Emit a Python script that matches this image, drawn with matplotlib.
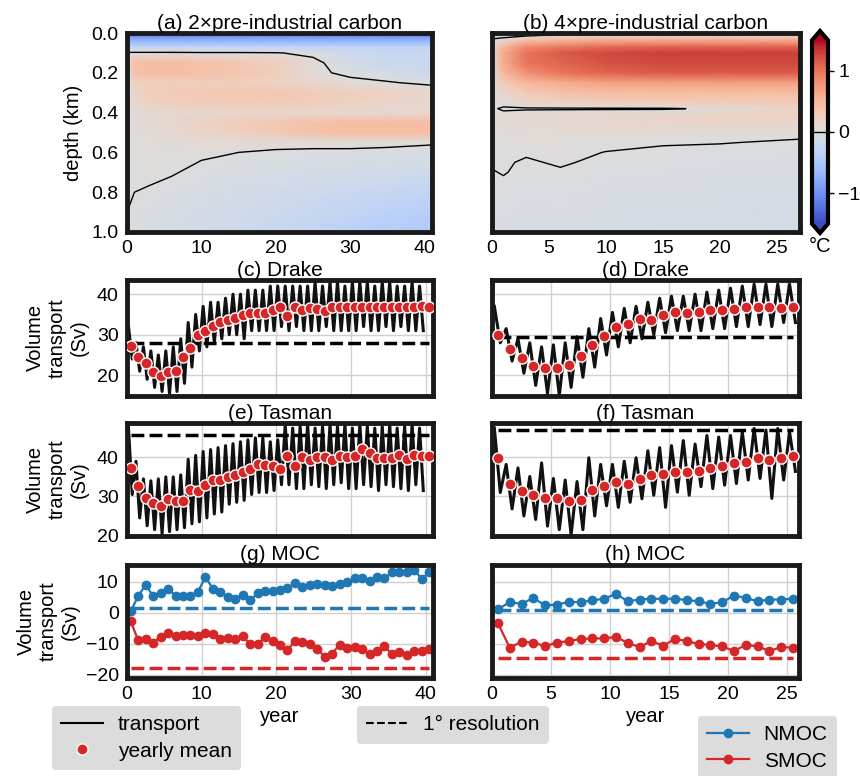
import numpy as np
import matplotlib.pyplot as plt
from matplotlib.lines import Line2D

plt.rcParams["font.family"] = ["Liberation Sans", "DejaVu Sans"]
plt.rcParams["font.size"] = 14.5
plt.rcParams["axes.titlesize"] = 15
plt.rcParams["xtick.labelsize"] = 14
plt.rcParams["ytick.labelsize"] = 14

# ---- temperature anomaly sections (deg C), depth x year ----
depth_a = [0.0, 0.03, 0.07, 0.10, 0.15, 0.20, 0.25, 0.30, 0.35, 0.40, 0.45,
           0.50, 0.55, 0.60, 0.70, 0.80, 0.90, 1.00]
year_a = [0, 1, 3, 6, 10, 15, 20, 25, 30, 35, 41]
temp_a = [
    [-1.2, -1.2, -1.2, -1.2, -1.2, -1.2, -1.2, -1.2, -1.2, -1.2, -1.2],
    [-0.8, -0.8, -0.8, -0.8, -0.8, -0.8, -0.8, -0.8, -0.8, -0.8, -0.8],
    [-0.3, -0.3, -0.3, -0.3, -0.3, -0.3, -0.3, -0.3, -0.3, -0.3, -0.3],
    [0.02, 0.03, 0.03, 0.03, 0.02, 0.02, 0.01, -0.04, -0.18, -0.22, -0.22],
    [0.05, 0.4, 0.45, 0.45, 0.4, 0.35, 0.25, 0.05, -0.12, -0.2, -0.22],
    [0.05, 0.4, 0.45, 0.45, 0.4, 0.35, 0.25, 0.05, -0.05, -0.12, -0.18],
    [0.03, 0.2, 0.25, 0.25, 0.25, 0.25, 0.2, 0.12, 0.06, 0.02, -0.05],
    [0.02, 0.15, 0.25, 0.3, 0.32, 0.35, 0.35, 0.3, 0.25, 0.2, 0.15],
    [0.02, 0.1, 0.2, 0.25, 0.28, 0.3, 0.3, 0.25, 0.2, 0.15, 0.12],
    [0.02, 0.05, 0.08, 0.12, 0.12, 0.12, 0.12, 0.12, 0.12, 0.12, 0.12],
    [0.01, 0.04, 0.08, 0.12, 0.2, 0.28, 0.35, 0.4, 0.45, 0.45, 0.45],
    [0.01, 0.03, 0.06, 0.1, 0.16, 0.24, 0.32, 0.4, 0.45, 0.45, 0.45],
    [0.01, 0.02, 0.04, 0.05, 0.06, 0.06, 0.05, 0.05, 0.05, 0.04, 0.02],
    [0.01, 0.02, 0.03, 0.03, 0.02, 0.0, -0.02, -0.03, -0.03, -0.04, -0.06],
    [0.01, 0.02, 0.02, 0.01, -0.03, -0.06, -0.08, -0.1, -0.12, -0.14, -0.16],
    [0.01, -0.0, -0.01, -0.04, -0.07, -0.1, -0.14, -0.17, -0.2, -0.24, -0.28],
    [0.0, -0.02, -0.04, -0.07, -0.1, -0.14, -0.18, -0.23, -0.28, -0.33, -0.38],
    [-0.01, -0.04, -0.07, -0.1, -0.14, -0.18, -0.23, -0.28, -0.34, -0.4, -0.46],
]

depth_b = [0.0, 0.03, 0.07, 0.10, 0.15, 0.20, 0.25, 0.30, 0.35, 0.38, 0.42,
           0.50, 0.55, 0.60, 0.65, 0.70, 0.75, 0.80, 1.00]
year_b = [0, 1, 3, 6, 10, 15, 20, 27]
temp_b = [
    [-0.4, -0.4, -0.3, -0.15, -0.05, -0.05, -0.03, -0.03],
    [0.0, 0.1, 0.3, 0.4, 0.5, 0.5, 0.5, 0.5],
    [0.05, 0.5, 0.85, 0.95, 1.05, 1.1, 1.1, 1.1],
    [0.05, 0.6, 1.0, 1.15, 1.25, 1.3, 1.3, 1.3],
    [0.05, 0.6, 1.0, 1.1, 1.2, 1.25, 1.25, 1.25],
    [0.05, 0.5, 0.8, 1.0, 1.1, 1.15, 1.15, 1.15],
    [0.03, 0.3, 0.5, 0.6, 0.7, 0.7, 0.7, 0.7],
    [0.02, 0.15, 0.3, 0.4, 0.45, 0.45, 0.45, 0.45],
    [0.02, 0.05, 0.15, 0.2, 0.25, 0.28, 0.3, 0.3],
    [0.02, -0.02, -0.02, -0.02, -0.02, -0.02, 0.03, 0.2],
    [0.02, 0.05, 0.1, 0.12, 0.15, 0.18, 0.2, 0.2],
    [0.03, 0.04, 0.05, 0.06, 0.08, 0.07, 0.04, 0.03],
    [0.02, 0.02, 0.03, 0.03, 0.02, 0.01, 0.005, -0.015],
    [0.015, 0.015, 0.01, 0.02, -0.002, -0.02, -0.03, -0.04],
    [0.01, 0.01, -0.01, 0.01, -0.02, -0.03, -0.04, -0.05],
    [-0.005, 0.005, -0.02, -0.01, -0.03, -0.04, -0.05, -0.06],
    [-0.02, -0.01, -0.03, -0.02, -0.04, -0.05, -0.06, -0.07],
    [-0.03, -0.03, -0.04, -0.03, -0.05, -0.06, -0.07, -0.08],
    [-0.04, -0.05, -0.06, -0.07, -0.08, -0.09, -0.1, -0.12],
]

# ---- transport (Sv): yearly peak / trough of the raw series and yearly means ----
drake2_peak = [32, 28, 27, 26, 25, 26, 27, 29, 33, 35, 37, 38, 38, 39, 40, 40, 41, 41, 41, 42,
               42, 42, 42, 42, 42, 43, 42, 43, 43, 42, 43, 43, 43, 42, 43, 43, 42, 42, 43, 42]
drake2_trough = [24, 21, 19, 17, 16, 15.5, 16, 18, 22, 26, 27, 28, 29, 30, 30, 29, 31, 31, 31, 31,
                 32, 31, 32, 31, 31, 31, 32, 31, 31, 31, 31, 32, 31, 31, 32, 31, 32, 31, 31, 31]
drake2_mean = [27.3, 24.4, 23.1, 20.9, 19.9, 20.9, 21.1, 24.5, 26.8, 30.0, 30.8, 32.1, 33.2, 33.75,
               34.2, 34.75, 35.4, 35.25, 35.4, 36.1, 36.75, 34.6, 36.8, 36.1, 36.6, 36.4, 35.8,
               36.8, 36.8, 36.8, 36.8, 36.9, 36.9, 36.8, 36.8, 36.8, 36.8, 36.9, 36.9, 37.1, 36.8]
drake2_1deg = 27.9

tasman2_peak = [47.5, 39, 34.5, 34, 34.5, 35, 35, 35.5, 39.5, 40.5, 41.5, 42, 42.5, 43, 43.5, 44,
                44.5, 45, 45, 44, 44.5, 48.5, 47.5, 48, 48.5, 47.5, 48, 48.5, 48, 48.5, 47.5,
                48.5, 48, 47.5, 48, 48.5, 47.5, 48, 48.5, 47.5]
tasman2_trough = [30.5, 24.5, 22.5, 21.5, 20.5, 21, 21.5, 22, 23, 23.5, 24.5, 25.5, 26, 28, 28.5,
                  29, 30.5, 31, 31, 31.5, 33, 33, 32, 32, 33, 32.5, 32, 33, 33.5, 32, 32, 33,
                  32.5, 31.5, 33, 32.5, 32, 31.5, 33, 31.5]
tasman2_mean = [37.3, 32.75, 29.6, 28.3, 27.5, 29.3, 28.75, 28.9, 31.7, 31.5, 32.9, 34.3, 34.3,
                35.0, 35.6, 36.25, 37.1, 38.2, 38.1, 37.75, 37.1, 40.25, 37.9, 40.2, 39.3, 40.0,
                40.0, 39.4, 40.4, 40.2, 40.4, 42.1, 41.0, 39.8, 39.8, 39.8, 40.7, 39.6, 40.6,
                40.4, 40.25]
tasman2_1deg = 45.8

drake4_peak = [37, 31.5, 29, 28, 27, 27.5, 28, 29.5, 31.5, 34, 35.5, 36.5, 37, 38, 39, 39.5,
               39.5, 40, 40.5, 41, 41.5, 42, 42.5, 42.5, 42.5, 42.5]
drake4_trough = [28, 23.5, 20.5, 17.5, 15.5, 15, 17, 19.5, 22, 25, 27, 28, 29, 30, 30.5, 31,
                 31, 31, 31.5, 31.5, 32, 32, 32.5, 32, 33, 33]
drake4_mean = [30.0, 26.5, 24.3, 22.4, 21.8, 21.8, 22.5, 24.8, 27.5, 29.6, 31.8, 32.75, 33.9,
               33.75, 34.75, 35.6, 35.4, 35.6, 36.2, 36.0, 36.25, 36.9, 36.9, 36.9, 36.7, 36.9]
drake4_1deg = 29.4

tasman4_peak = [47.5, 38.2, 37.3, 35.1, 38.6, 34.6, 34.2, 33.8, 39.9, 38.2, 38.2, 39, 39.9, 41.7,
                42.5, 43, 44.3, 43.4, 45.6, 45.2, 45.6, 46.5, 47.4, 47, 47.4, 46.5]
tasman4_trough = [31, 26.8, 25, 24.1, 22.4, 21.5, 20.2, 21.5, 25, 27.6, 27.2, 28.5, 29.4, 30.3,
                  27.2, 31.1, 30.3, 32.5, 32, 32.9, 33.3, 34.2, 34.6, 29.5, 34.2, 36.4]
tasman4_mean = [39.8, 33.1, 31.5, 30.25, 29.6, 29.6, 28.75, 29.2, 31.7, 32.7, 33.6, 33.2, 34.4,
                35.4, 35.8, 36.2, 36.25, 36.5, 37.3, 37.9, 38.5, 38.9, 39.9, 39.3, 39.75, 40.25]
tasman4_1deg = 47.1

# ---- overturning (Sv), yearly means ----
nmoc2 = [0.5, 5.4, 9.1, 5.4, 6.4, 7.7, 5.6, 5.4, 5.6, 6.75, 11.6, 7.8, 6.75, 5.1, 4.6, 5.9, 4.1,
         6.3, 7.0, 7.0, 7.5, 7.9, 9.5, 8.25, 9.0, 9.4, 8.9, 8.6, 9.2, 9.9, 11.25, 11.25, 10.4,
         11.5, 11.1, 13.1, 13.2, 13.3, 13.7, 11.0, 13.2]
smoc2 = [-2.7, -8.9, -8.4, -9.6, -7.7, -6.6, -7.6, -7.1, -7.0, -7.3, -6.6, -6.9, -8.5, -8.1,
         -8.4, -7.6, -10.0, -9.9, -7.8, -9.1, -10.2, -12.1, -9.1, -9.3, -10.0, -11.7, -14.1,
         -13.1, -10.2, -11.25, -10.9, -11.7, -13.2, -12.4, -10.8, -13.2, -12.5, -13.6, -12.3,
         -12.3, -11.6]
nmoc2_1deg = 1.6
smoc2_1deg = -17.9

nmoc4 = [1.1, 3.5, 2.9, 4.8, 2.4, 2.7, 3.5, 3.5, 4.0, 4.6, 6.1, 3.75, 4.3, 4.6, 4.5, 4.6, 4.1,
         3.75, 2.9, 3.4, 5.6, 4.8, 3.75, 4.3, 4.3, 4.6]
smoc4 = [-3.3, -11.25, -9.3, -9.6, -10.7, -9.6, -9.1, -8.4, -8.25, -8.25, -7.7, -9.75, -11.0,
         -9.1, -10.6, -8.4, -9.1, -10.0, -10.4, -10.8, -12.3, -10.3, -10.8, -12.3, -11.0, -11.25]
nmoc4_1deg = 0.9
smoc4_1deg = -14.7

RED = "#d62728"
BLUE = "#1f77b4"
FRAME = "#1a1a1a"
DASH = (3.7, 1.5)


def frame(ax, grid=True):
    for s in ax.spines.values():
        s.set_linewidth(3.5)
        s.set_color(FRAME)
    ax.tick_params(length=0, pad=6)
    if grid:
        ax.grid(True, color="#d0d0d0", lw=1)
        ax.set_axisbelow(True)


def raw_series(peak, trough):
    yrs = np.arange(len(peak))
    x = np.ravel(np.column_stack([yrs + 0.2, yrs + 0.7]))
    y = np.ravel(np.column_stack([peak, trough]))
    return x, y


fig = plt.figure(figsize=(8.6, 7.76), dpi=100)
W, H = 860, 776


def axes_px(x0, x1, y0, y1):
    return fig.add_axes([x0 / W, 1 - y1 / H, (x1 - x0) / W, (y1 - y0) / H])


ax_a = axes_px(127, 432, 33, 232)
ax_b = axes_px(492, 800, 33, 232)
ax_c = axes_px(127, 433, 280, 395.5)
ax_d = axes_px(492, 799, 280, 395.5)
ax_e = axes_px(127, 433, 423, 535.5)
ax_f = axes_px(492, 799, 423, 535.5)
ax_g = axes_px(127, 433, 564.5, 678)
ax_h = axes_px(492, 799, 564.5, 678)
cax = axes_px(812, 828, 31, 233)

# heat maps
for ax, yr, dp, tt, xmax, title in [
    (ax_a, year_a, depth_a, temp_a, 41, "(a) 2×pre-industrial carbon"),
    (ax_b, year_b, depth_b, temp_b, 27, "(b) 4×pre-industrial carbon"),
]:
    pm = ax.pcolormesh(yr, dp, np.array(tt), cmap="coolwarm", vmin=-1.5, vmax=1.5,
                       shading="gouraud")
    cs = ax.contour(yr, dp, np.array(tt), levels=[0], colors="k", linewidths=1)
    ax.set_xlim(0, xmax)
    ax.set_ylim(1.0, 0.0)
    ax.set_title(title, pad=2)
    frame(ax, grid=False)

ax_a.set_yticks([0.0, 0.2, 0.4, 0.6, 0.8, 1.0])
ax_a.set_ylabel("depth (km)", labelpad=6)
ax_a.set_xticks([0, 10, 20, 30, 40])
ax_b.set_yticks([])
ax_b.set_xticks([0, 5, 10, 15, 20, 25])

cb = fig.colorbar(pm, cax=cax, extend="both", ticks=[-1, 0, 1])
cb.outline.set_linewidth(3)
cb.add_lines(cs)
cax.tick_params(length=4, width=1)
fig.text(820 / W, 1 - 246 / H, "°C", ha="center", va="center")

# transports
for ax, peak, trough, mean, ref, xmax, title in [
    (ax_c, drake2_peak, drake2_trough, drake2_mean, drake2_1deg, 41, "(c) Drake"),
    (ax_d, drake4_peak, drake4_trough, drake4_mean, drake4_1deg, 26, "(d) Drake"),
    (ax_e, tasman2_peak, tasman2_trough, tasman2_mean, tasman2_1deg, 41, "(e) Tasman"),
    (ax_f, tasman4_peak, tasman4_trough, tasman4_mean, tasman4_1deg, 26, "(f) Tasman"),
]:
    xs, ys = raw_series(peak, trough)
    ax.plot(xs, ys, color="#111111", lw=2.2, zorder=2)
    xm = np.arange(len(mean)) + 0.5
    ax.plot([xm[0], xm[-1]], [ref, ref], "k--", lw=2.5, dashes=DASH, zorder=3)
    ax.plot(xm, mean, ls="none", marker="o", ms=8, mfc=RED, mec="white", mew=1, zorder=4)
    ax.set_xlim(0, xmax)
    ax.set_title(title, pad=1.5)
    frame(ax)

for ax in (ax_c, ax_d):
    ax.set_ylim(15, 43.5)
    ax.set_yticks([20, 30, 40])
for ax in (ax_e, ax_f):
    ax.set_ylim(20, 48.8)
    ax.set_yticks([20, 30, 40])
for ax in (ax_c, ax_e):
    ax.set_xticks([0, 10, 20, 30, 40])
    ax.set_xticklabels([])
    ax.set_ylabel("Volume\ntransport\n(Sv)", labelpad=6)
for ax in (ax_d, ax_f):
    ax.set_xticks([0, 5, 10, 15, 20, 25])
    ax.set_xticklabels([])
    ax.set_yticklabels([])

# MOC
for ax, nm, sm, nref, sref, xmax, title in [
    (ax_g, nmoc2, smoc2, nmoc2_1deg, smoc2_1deg, 41, "(g) MOC"),
    (ax_h, nmoc4, smoc4, nmoc4_1deg, smoc4_1deg, 26, "(h) MOC"),
]:
    xm = np.arange(len(nm)) + 0.5
    ax.plot(xm, nm, color=BLUE, marker="o", ms=6, lw=1.6)
    ax.plot(xm, sm, color=RED, marker="o", ms=6, lw=1.6)
    ax.plot([xm[0], xm[-1]], [nref, nref], "--", color=BLUE, lw=2.5, dashes=DASH)
    ax.plot([xm[0], xm[-1]], [sref, sref], "--", color=RED, lw=2.5, dashes=DASH)
    ax.set_xlim(0, xmax)
    ax.set_ylim(-21, 15.6)
    ax.set_yticks([-20, -10, 0, 10])
    ax.set_title(title, pad=1.5)
    ax.set_xlabel("year", labelpad=3)
    frame(ax)

ax_g.set_xticks([0, 10, 20, 30, 40])
ax_h.set_xticks([0, 5, 10, 15, 20, 25])
ax_h.set_yticklabels([])
ax_g.set_ylabel("Volume\ntransport\n(Sv)", labelpad=4)

# legends
leg_kw = dict(facecolor="#dcdcdc", edgecolor="none", framealpha=1, fontsize=15,
              loc="upper left", handlelength=2.0, handletextpad=0.7, labelspacing=0.35,
              borderaxespad=0, borderpad=0.45)
fig.legend(handles=[Line2D([], [], color="k", lw=1.5, label="transport"),
                    Line2D([], [], ls="none", marker="o", ms=8, mfc=RED, mec="white",
                           label="yearly mean")],
           bbox_to_anchor=(52 / W, 1 - 706 / H), **leg_kw)
fig.legend(handles=[Line2D([], [], color="k", ls="--", lw=1.5, label="1° resolution")],
           bbox_to_anchor=(357 / W, 1 - 706 / H), **leg_kw)
fig.legend(handles=[Line2D([], [], color=BLUE, marker="o", ms=6, lw=1.6, label="NMOC"),
                    Line2D([], [], color=RED, marker="o", ms=6, lw=1.6, label="SMOC")],
           bbox_to_anchor=(698 / W, 1 - 716 / H), **leg_kw)

fig.savefig("out.png", dpi=100)
